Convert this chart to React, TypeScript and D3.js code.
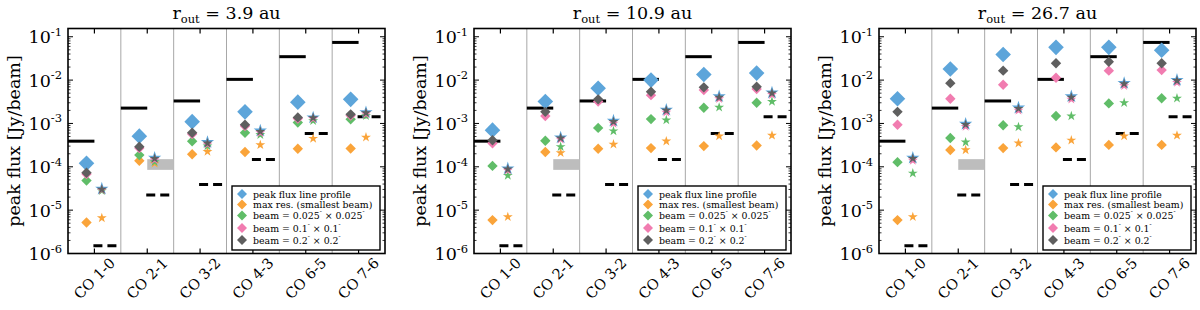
import React from "react";
import * as d3 from "d3";

const transitions = ["CO 1-0", "CO 2-1", "CO 3-2", "CO 4-3", "CO 6-5", "CO 7-6"];
const radii = ["3.9", "10.9", "26.7"];

// sensitivity limits, same in every panel
const limitSolid = [3.9e-4, 2.26e-3, 3.3e-3, 1.04e-2, 3.47e-2, 7.4e-2];
const limitDashed = [1.5e-6, 2.25e-5, 3.9e-5, 1.48e-4, 5.9e-4, 1.43e-3];
const grayBand = [8.5e-5, 1.5e-4]; // CO 2-1 only
const grayBandIndex = 1;

// diamonds (left column) per panel
const peakD = [
  [1.2e-4, 5.1e-4, 1.1e-3, 1.85e-3, 3.1e-3, 3.6e-3],
  [7.0e-4, 3.2e-3, 6.5e-3, 1.0e-2, 1.35e-2, 1.45e-2],
  [3.7e-3, 1.8e-2, 3.9e-2, 5.7e-2, 5.7e-2, 4.9e-2],
];
const maxResD = [
  [5.2e-6, 1.38e-4, 1.95e-4, 2.2e-4, 2.6e-4, 2.65e-4],
  [5.9e-6, 2.2e-4, 2.6e-4, 2.7e-4, 3.0e-4, 3.1e-4],
  [5.9e-6, 2.45e-4, 2.7e-4, 2.8e-4, 3.2e-4, 3.2e-4],
];
const beam025D = [
  [4.8e-5, 1.86e-4, 3.9e-4, 6.1e-4, 1.05e-3, 1.25e-3],
  [1.05e-4, 4.0e-4, 7.9e-4, 1.26e-3, 2.3e-3, 3.0e-3],
  [1.28e-4, 4.6e-4, 9.1e-4, 1.48e-3, 2.9e-3, 3.8e-3],
];
const beam01D = [
  [6.8e-5, 2.7e-4, 5.7e-4, 8.7e-4, 1.3e-3, 1.52e-3],
  [3.5e-4, 1.48e-3, 3.2e-3, 4.5e-3, 5.9e-3, 6.2e-3],
  [9.3e-4, 3.7e-3, 7.8e-3, 1.13e-2, 1.65e-2, 1.7e-2],
];
const beam02D = [
  [7.3e-5, 2.9e-4, 6.1e-4, 9.3e-4, 1.38e-3, 1.62e-3],
  [4.1e-4, 1.85e-3, 3.6e-3, 5.4e-3, 6.8e-3, 7.0e-3],
  [1.85e-3, 8.5e-3, 1.65e-2, 2.45e-2, 2.66e-2, 2.45e-2],
];

// stars (right column) per panel
const peakS = [
  [3.1e-5, 1.6e-4, 3.7e-4, 6.8e-4, 1.36e-3, 1.8e-3],
  [9.1e-5, 4.7e-4, 1.15e-3, 2.05e-3, 4.2e-3, 5.1e-3],
  [1.6e-4, 9.7e-4, 2.3e-3, 4.2e-3, 8.5e-3, 1.0e-2],
];
const maxResS = [
  [6.6e-6, 1.2e-4, 2.25e-4, 3.2e-4, 4.5e-4, 4.8e-4],
  [7.0e-6, 2.1e-4, 3.3e-4, 3.9e-4, 5.1e-4, 5.3e-4],
  [7.0e-6, 2.45e-4, 3.5e-4, 4.1e-4, 5.1e-4, 5.3e-4],
];
const beam025S = [
  [2.8e-5, 1.3e-4, 3.0e-4, 5.5e-4, 1.15e-3, 1.5e-3],
  [6.3e-5, 2.9e-4, 6.7e-4, 1.2e-3, 2.35e-3, 3.2e-3],
  [7.1e-5, 3.7e-4, 8.3e-4, 1.48e-3, 3.0e-3, 3.8e-3],
];
const beam01S = [
  [2.9e-5, 1.45e-4, 3.3e-4, 6.1e-4, 1.28e-3, 1.65e-3],
  [8.3e-5, 4.3e-4, 1.0e-3, 1.8e-3, 3.7e-3, 4.6e-3],
  [1.4e-4, 8.5e-4, 2.0e-3, 3.6e-3, 7.4e-3, 8.8e-3],
];
const beam02S = [
  [3.0e-5, 1.55e-4, 3.5e-4, 6.5e-4, 1.35e-3, 1.75e-3],
  [8.8e-5, 4.6e-4, 1.1e-3, 2.0e-3, 4.0e-3, 5.0e-3],
  [1.55e-4, 9.4e-4, 2.2e-3, 4.0e-3, 8.2e-3, 9.7e-3],
];

const yTicks = [1e-6, 1e-5, 1e-4, 1e-3, 1e-2, 1e-1];
const yTickExp = ["-6", "-5", "-4", "-3", "-2", "-1"];

const COLORS = {
  blue: "#5DA5DA",
  orange: "#FAA43A",
  green: "#60BD68",
  pink: "#F17CB0",
  gray: "#5f5f5f",
};

const FONT = "'DejaVu Serif', serif";
const W = 1200;
const H = 310;
const panelLefts = [68, 474, 879];
const panelWidth = 317;
const top = 28.5;
const bottom = 253.5;

const diamond = (r: number) => `M0,${-r}L${r},0L0,${r}L${-r},0Z`;
const star = (r: number) => d3.symbol(d3.symbolStar, (r * r) / 0.8908130915292852)()!;

function Panel({ p }: { p: number }) {
  const left = panelLefts[p];
  const right = left + panelWidth;
  const x = d3.scaleBand<string>().domain(transitions).range([left, right]).padding(0);
  const y = d3.scaleLog().domain([1e-6, 0.155]).range([bottom, top]);
  const bw = x.bandwidth();
  const cx = (t: string) => x(t)! + bw / 2;
  const dx = -0.15 * bw;
  const sx = 0.14 * bw;

  const minor: number[] = [];
  for (let e = -6; e <= -1; e++) for (let m = 2; m <= 9; m++) {
    const v = m * Math.pow(10, e);
    if (v < y.domain()[1]) minor.push(v);
  }

  const diamondSeries = [
    { v: peakD[p], c: COLORS.blue, r: 7.8 },
    { v: maxResD[p], c: COLORS.orange, r: 5.2 },
    { v: beam025D[p], c: COLORS.green, r: 5.2 },
    { v: beam01D[p], c: COLORS.pink, r: 5.2 },
    { v: beam02D[p], c: COLORS.gray, r: 5.2 },
  ];
  const starSeries = [
    { v: peakS[p], c: COLORS.blue, r: 7 },
    { v: maxResS[p], c: COLORS.orange, r: 5.2 },
    { v: beam025S[p], c: COLORS.green, r: 5.2 },
    { v: beam01S[p], c: COLORS.pink, r: 5.2 },
    { v: beam02S[p], c: COLORS.gray, r: 5.2 },
  ];

  const legendItems = [
    { c: COLORS.blue, label: [["peak flux line profile", false]] },
    { c: COLORS.orange, label: [["max res. (smallest beam)", false]] },
    { c: COLORS.green, label: [["beam = 0.025", false], ["\u2033", true], [" \u00d7 0.025", false], ["\u2033", true]] },
    { c: COLORS.pink, label: [["beam = 0.1", false], ["\u2033", true], [" \u00d7 0.1", false], ["\u2033", true]] },
    { c: COLORS.gray, label: [["beam = 0.2", false], ["\u2033", true], [" \u00d7 0.2", false], ["\u2033", true]] },
  ];
  const legendRows = [194.5, 205, 216, 228.5, 240.5];
  const lgLeft = right - 153;
  const mid = (left + right) / 2;

  return (
    <g fontFamily={FONT}>
      {/* title */}
      <text x={mid} y={18.5} textAnchor="middle" fontSize={17.5}>
        r<tspan dy={4} fontSize={11.5}>out</tspan>
        <tspan dy={-4}> = {radii[p]} au</tspan>
      </text>

      {/* y label */}
      <text transform={`translate(${left - 54},${(top + bottom) / 2}) rotate(-90)`} textAnchor="middle"
        dominantBaseline="central" fontSize={17.5}>peak flux [Jy/beam]</text>

      {/* category separators */}
      {transitions.slice(1).map((t) => (
        <line key={t} x1={x(t)} x2={x(t)} y1={top} y2={bottom} stroke="#a8a8a8" strokeWidth={1} />
      ))}

      {/* gray band */}
      <rect x={cx(transitions[grayBandIndex])} width={bw / 2} y={y(grayBand[1])}
        height={y(grayBand[0]) - y(grayBand[1])} fill="#bdbdbd" />

      {/* limits */}
      {transitions.map((t, i) => (
        <g key={t}>
          <line x1={x(t)} x2={cx(t)} y1={y(limitSolid[i])} y2={y(limitSolid[i])} stroke="#000" strokeWidth={3} />
          <line x1={cx(t) - 1} x2={cx(t) + 0.44 * bw} y1={y(limitDashed[i])} y2={y(limitDashed[i])}
            stroke="#000" strokeWidth={3} strokeDasharray="9,5" />
        </g>
      ))}

      {/* markers */}
      {diamondSeries.map((s, k) => (
        <g key={"d" + k} fill={s.c}>
          {s.v.map((v, i) => (
            <path key={i} d={diamond(s.r)} transform={`translate(${cx(transitions[i]) + dx},${y(v)})`} />
          ))}
        </g>
      ))}
      {starSeries.map((s, k) => (
        <g key={"s" + k} fill={s.c}>
          {s.v.map((v, i) => (
            <path key={i} d={star(s.r)} transform={`translate(${cx(transitions[i]) + sx},${y(v)})`} />
          ))}
        </g>
      ))}

      {/* ticks */}
      {yTicks.map((v) => (
        <g key={v}>
          <line x1={left} x2={left + 5} y1={y(v)} y2={y(v)} stroke="#000" />
          <line x1={right} x2={right - 5} y1={y(v)} y2={y(v)} stroke="#000" />
        </g>
      ))}
      {minor.map((v) => (
        <g key={v}>
          <line x1={left} x2={left + 2.5} y1={y(v)} y2={y(v)} stroke="#000" strokeWidth={0.8} />
          <line x1={right} x2={right - 2.5} y1={y(v)} y2={y(v)} stroke="#000" strokeWidth={0.8} />
        </g>
      ))}
      {transitions.map((t) => (
        <g key={t}>
          <line x1={cx(t)} x2={cx(t)} y1={top} y2={top + 5} stroke="#000" strokeWidth={1.2} />
          <line x1={cx(t)} x2={cx(t)} y1={bottom} y2={bottom - 5} stroke="#000" strokeWidth={1.2} />
        </g>
      ))}

      {/* y tick labels */}
      {yTicks.map((v, i) => (
        <text key={v} x={left - 6} y={y(v) + 6.5} textAnchor="end" fontSize={17.5}>
          10<tspan dy={-7.5} fontSize={11.5}>{yTickExp[i]}</tspan>
        </text>
      ))}

      {/* x tick labels */}
      {transitions.map((t) => (
        <text key={t} transform={`translate(${cx(t)},${bottom + 25}) rotate(-45)`} textAnchor="middle"
          dominantBaseline="central" fontSize={14.5}>{t}</text>
      ))}

      {/* frame */}
      <rect x={left} y={top} width={panelWidth} height={bottom - top} fill="none" stroke="#000" strokeWidth={1.6} />

      {/* legend */}
      <rect x={lgLeft} y={186} width={148} height={64} fill="#fff" stroke="#000" strokeWidth={1.4} />
      {legendItems.map((it, k) => (
        <g key={k}>
          <path d={diamond(5)} fill={it.c} transform={`translate(${lgLeft + 10},${legendRows[k] - 0.5})`} />
          <text x={lgLeft + 21} y={legendRows[k] + 3.4} fontSize={9.4}>
            {it.label.map(([s, sup], j) => (
              sup ? <tspan key={j} dy={-4} fontSize={5.5}>{s as string}</tspan>
                : <tspan key={j} dy={j > 0 ? 4 : 0}>{s as string}</tspan>
            ))}
          </text>
        </g>
      ))}
    </g>
  );
}

export default function App() {
  return (
    <div style={{ position: "absolute", left: 0, top: 0 }}>
      <svg width={W} height={H} viewBox={`0 0 ${W} ${H}`} style={{ display: "block", background: "#fff" }}>
        {radii.map((_, p) => <Panel key={p} p={p} />)}
      </svg>
    </div>
  );
}
